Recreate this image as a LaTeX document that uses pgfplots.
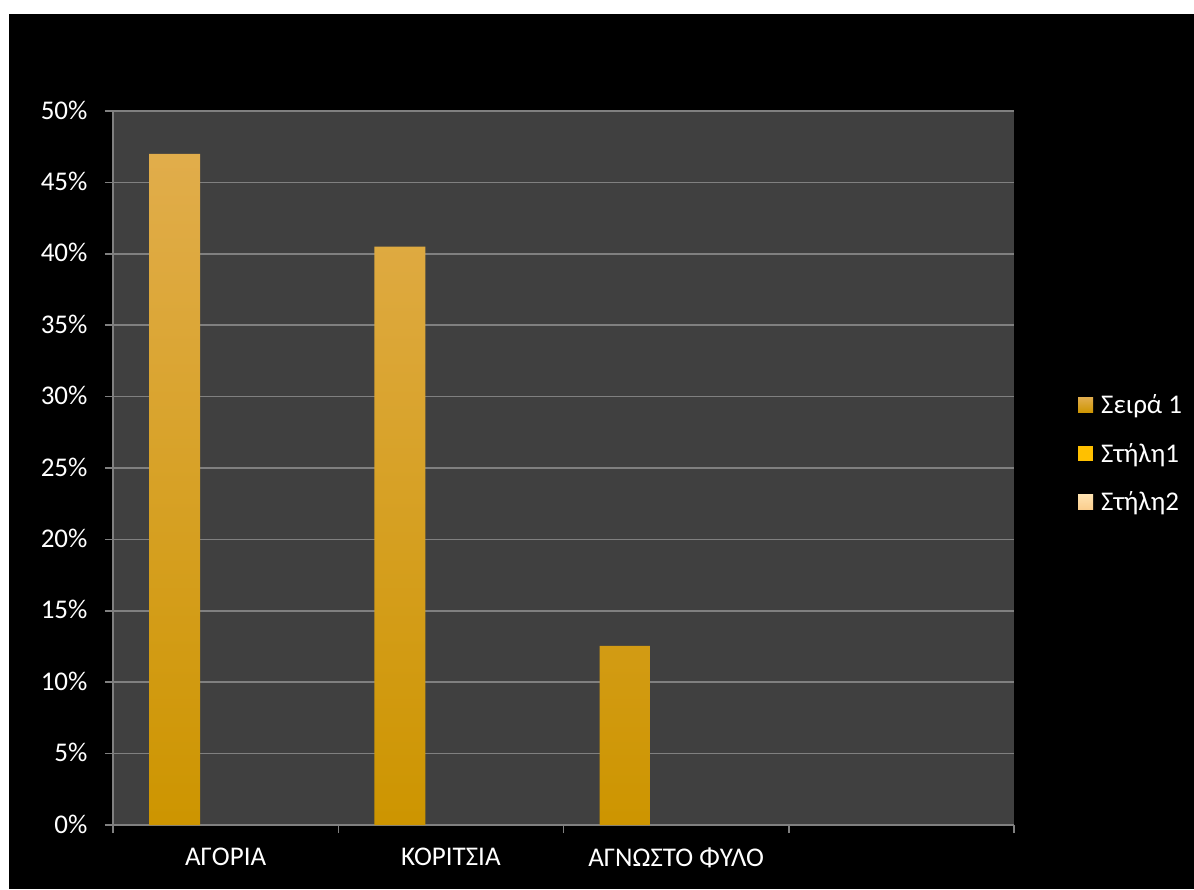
\documentclass[border=0pt]{standalone}
\usepackage{fontspec}
\setmainfont{Carlito}
\usepackage{pgfplots}
\pgfplotsset{compat=1.18}
\definecolor{plotbg}{RGB}{64,64,64}
\definecolor{gridc}{RGB}{128,128,128}
\definecolor{bartop}{RGB}{225,173,75}
\definecolor{barmid}{RGB}{221,165,0}
\definecolor{barbot}{RGB}{205,149,0}
\definecolor{sertwo}{RGB}{255,192,0}
\definecolor{serthreetop}{RGB}{255,226,176}
\definecolor{serthreebot}{RGB}{250,205,140}
\begin{document}
\begin{tikzpicture}[x=1pt,y=1pt]
\fill[white] (0,0) rectangle (1194,889);
\fill[black] (9,0) rectangle (1194,875);
\begin{axis}[
  at={(113pt,64pt)}, anchor=south west,
  scale only axis, width=901pt, height=714pt,
  axis background/.style={fill=plotbg},
  xmin=-0.5, xmax=3.5, ymin=0, ymax=50,
  axis x line*=bottom, axis y line*=left,
  axis line style={draw=gridc, line width=1.5pt},
  tick style={draw=gridc, line width=1.5pt},
  tick align=outside,
  major tick length=8pt,
  xtick={-0.5,0.5,1.5,2.5,3.5},
  xticklabels={},
  extra x ticks={0,1,2},
  extra x tick labels={ΑΓΟΡΙΑ,ΚΟΡΙΤΣΙΑ,ΑΓΝΩΣΤΟ ΦΥΛΟ},
  extra x tick style={major tick length=0pt, grid=none,
    xticklabel style={yshift=-19pt}},
  ytick={0,5,...,50},
  yticklabel={\pgfmathprintnumber{\tick}\%},
  /pgf/number format/assume math mode=true,
  ymajorgrids,
  grid style={draw=gridc, line width=1.5pt},
  tick label style={font=\fontsize{27}{32}\selectfont, text=white},
  yticklabel style={xshift=-14pt, yshift=1pt},
  legend cell align=left,
  legend style={at={(1.071,0.52)}, anchor=west, fill=none, draw=none,
    text=white, font=\fontsize{27}{32}\selectfont, row sep=24pt,
    inner sep=0pt,
    /tikz/every odd column/.append style={column sep=6pt}},
  legend image code/.code={\fill[#1] (0pt,-7.5pt) rectangle (15pt,7.5pt);},
]
\addplot[ybar, bar width=51pt, bar shift=-51pt, draw=none,
  top color=bartop, middle color=barmid, bottom color=barbot]
  coordinates {(0,47.0) (1,40.5) (2,12.55)};
\addlegendentry{Σειρά 1}
\addlegendimage{fill=sertwo, draw=none}
\addlegendentry{Στήλη1}
\addlegendimage{draw=none, top color=serthreetop, bottom color=serthreebot}
\addlegendentry{Στήλη2}
\end{axis}
\end{tikzpicture}
\end{document}
